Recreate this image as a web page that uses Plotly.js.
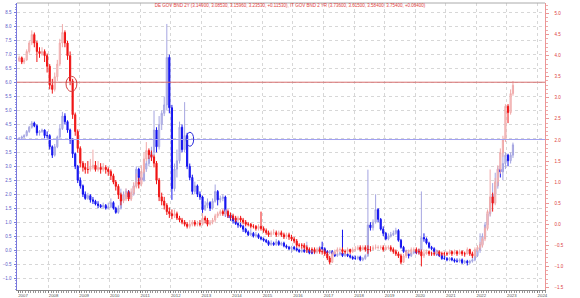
<!DOCTYPE html>
<html><head><meta charset="utf-8">
<script src="https://cdn.plot.ly/plotly-3.0.1.min.js"></script>
<style>html,body{margin:0;padding:0;background:#fff}#c{width:580px;height:298px}</style>
</head><body><div id="c"></div>
<script>
// Monthly bars, Jan 2007 .. Mar 2023
const startYear = 2007;
const titleText = "DE GOV BND 2Y (3.14900, 3.08530, 3.15960, 3.23530, +0.11530), IT GOV BND 2 YR (3.73600, 3.61500, 3.58400, 3.75400, +0.06400)";
const yearLabels = ["2007","2008","2009","2010","2011","2012","2013","2014","2015","2016","2017","2018","2019","2020","2021","2022","2023","2024"];

// IT GOV BND 2 YR (blue, left axis)
const itFirstOpen = 3.98;
const itClose = [4.0,4.05,4.1,4.25,4.4,4.55,4.45,4.2,4.25,4.3,4.1,4.1,
3.7,3.4,3.7,4.05,4.35,4.8,4.6,4.3,3.95,3.45,3.0,2.5,
2.3,2.0,1.85,1.95,1.8,1.75,1.65,1.6,1.55,1.6,1.5,1.55,
1.7,1.5,1.35,1.5,1.8,2.0,2.1,1.9,2.0,2.3,2.9,2.6,
2.5,2.9,3.1,3.3,3.5,4.3,3.7,4.5,4.9,5.2,6.9,5.1,
2.2,2.9,3.2,4.4,3.6,4.1,3.0,2.6,2.1,2.3,2.0,1.9,
1.45,1.6,1.7,1.5,1.75,2.1,1.8,1.85,1.9,1.3,1.25,1.15,
1.05,0.95,0.9,0.85,0.75,0.65,0.55,0.6,0.5,0.55,0.45,0.4,
0.35,0.3,0.2,0.25,0.2,0.3,0.2,0.25,0.15,0.1,0.05,0.1,
0.05,0.0,-0.05,0.0,-0.05,0.0,-0.1,-0.1,-0.05,0.0,0.1,0.05,
-0.05,-0.1,-0.05,-0.15,-0.2,-0.15,-0.1,-0.2,-0.15,-0.2,-0.25,-0.3,
-0.3,-0.25,-0.35,-0.3,-0.2,0.9,0.8,1.0,1.45,1.1,0.75,0.6,
0.4,0.5,0.55,0.6,0.7,0.35,0.1,-0.05,-0.15,-0.2,-0.1,-0.05,
-0.1,0.0,0.45,0.4,0.25,0.1,0.05,-0.05,-0.15,-0.2,-0.3,-0.3,
-0.35,-0.3,-0.35,-0.4,-0.4,-0.35,-0.45,-0.4,-0.45,-0.4,-0.35,-0.2,
0.0,0.2,0.5,0.9,1.3,1.7,2.0,2.3,2.9,2.8,3.1,3.4,
3.2,3.4,3.77];
const itHigh = [4.05,4.1,4.15,4.3,4.45,4.62,4.6,4.5,4.3,4.35,4.32,4.25,
4.15,3.75,3.8,4.1,4.5,4.95,4.9,4.65,4.35,4.0,3.5,3.05,
2.6,2.35,2.1,2.05,2.0,1.9,1.8,1.75,1.65,1.7,1.65,1.7,
1.85,1.75,1.55,1.6,2.2,2.1,2.2,2.15,2.1,2.4,3.0,2.95,
2.75,3.0,3.2,3.45,3.7,5.0,4.4,4.8,5.0,5.5,8.1,7.0,
5.2,3.1,3.6,4.6,4.5,5.3,4.2,3.1,2.7,2.45,2.35,2.1,
1.95,1.75,1.85,1.75,1.85,2.35,2.15,1.95,2.0,1.95,1.4,1.3,
1.2,1.1,1.0,0.98,0.9,0.8,0.7,0.75,0.65,0.65,0.6,0.5,
0.45,0.4,0.35,0.35,0.3,0.4,0.35,0.3,0.3,0.2,0.15,0.15,
0.15,0.1,0.05,0.05,0.05,0.3,0.05,0.0,0.0,0.05,0.15,0.3,
0.1,0.0,0.0,0.0,-0.1,-0.1,-0.05,0.73,-0.1,-0.1,-0.15,-0.2,
-0.2,-0.2,-0.2,-0.25,-0.15,2.88,1.0,1.1,2.0,1.5,1.15,0.85,
0.65,0.6,0.65,0.7,0.8,0.75,0.4,0.15,0.0,-0.1,-0.05,0.0,
0.0,0.05,2.1,0.6,0.45,0.3,0.15,0.1,0.0,-0.1,-0.15,-0.2,
-0.25,-0.25,-0.25,-0.3,-0.3,-0.3,-0.3,-0.35,-0.35,-0.35,-0.25,-0.1,
0.1,0.6,0.6,1.0,1.4,1.85,2.4,2.77,3.0,3.05,3.5,3.5,
3.45,3.5,3.85];
const itLow = [3.95,3.97,4.0,4.07,4.2,4.35,4.4,4.1,4.1,4.2,4.0,4.0,
3.6,3.3,3.35,3.65,4.0,4.3,4.5,4.2,3.8,3.3,2.9,2.4,
2.2,1.9,1.8,1.8,1.7,1.65,1.6,1.5,1.5,1.5,1.45,1.45,
1.5,1.45,1.3,1.3,1.45,1.7,1.9,1.85,1.8,1.95,2.25,2.45,
2.4,2.45,2.8,3.0,3.2,3.4,3.5,3.6,4.3,4.8,5.0,4.9,
1.8,2.1,2.6,3.1,3.5,3.5,2.9,2.5,2.0,2.0,1.9,1.8,
1.33,1.4,1.5,1.4,1.45,1.7,1.6,1.7,1.75,1.2,1.15,1.05,
0.95,0.9,0.8,0.8,0.65,0.6,0.5,0.5,0.45,0.45,0.4,0.35,
0.3,0.25,0.15,0.15,0.15,0.15,0.15,0.15,0.1,0.05,0.0,-0.1,
0.0,-0.05,-0.1,-0.1,-0.1,-0.1,-0.15,-0.15,-0.15,-0.1,-0.05,0.0,
-0.1,-0.2,-0.15,-0.2,-0.25,-0.25,-0.2,-0.25,-0.25,-0.25,-0.3,-0.35,
-0.35,-0.35,-0.4,-0.4,-0.35,-0.25,0.7,0.7,0.95,1.0,0.7,0.5,
0.35,0.35,0.45,0.5,0.55,0.3,0.05,-0.1,-0.2,-0.3,-0.25,-0.15,
-0.15,-0.15,-0.05,0.3,0.2,0.05,0.0,-0.1,-0.2,-0.25,-0.35,-0.35,
-0.4,-0.4,-0.4,-0.45,-0.45,-0.45,-0.5,-0.5,-0.55,-0.5,-0.45,-0.4,
-0.25,-0.1,0.1,0.4,0.85,1.2,1.6,1.9,2.2,2.6,2.5,2.9,
3.0,3.1,3.3];

// DE GOV BND 2Y (red, right axis)
const deFirstOpen = 3.88;
const deClose = [3.95,3.85,3.9,4.1,4.3,4.5,4.3,4.1,4.05,4.1,4.0,3.75,
3.3,3.2,3.5,3.8,4.3,4.55,4.3,4.0,3.4,2.6,2.2,1.8,
1.45,1.35,1.3,1.3,1.35,1.4,1.3,1.35,1.3,1.35,1.3,1.25,
1.15,1.0,0.9,0.7,0.55,0.6,0.75,0.6,0.75,0.9,1.0,0.95,
1.25,1.55,1.75,1.65,1.6,1.45,1.05,0.65,0.55,0.45,0.3,0.25,
0.2,0.25,0.15,0.1,0.05,0.0,-0.05,0.0,0.05,0.0,0.02,0.0,
0.15,0.1,0.0,0.05,0.1,0.2,0.25,0.3,0.25,0.3,0.2,0.2,
0.15,0.1,0.15,0.1,0.05,0.0,0.0,-0.05,-0.05,-0.1,-0.05,-0.1,
-0.15,-0.2,-0.25,-0.2,-0.2,-0.25,-0.2,-0.25,-0.3,-0.25,-0.3,-0.35,
-0.4,-0.5,-0.5,-0.5,-0.55,-0.6,-0.6,-0.6,-0.65,-0.6,-0.65,-0.65,
-0.7,-0.8,-0.9,-0.7,-0.65,-0.6,-0.6,-0.65,-0.65,-0.6,-0.65,-0.6,
-0.6,-0.55,-0.6,-0.55,-0.6,-0.6,-0.6,-0.55,-0.55,-0.55,-0.55,-0.6,
-0.55,-0.55,-0.6,-0.65,-0.7,-0.75,-0.9,-0.75,-0.65,-0.65,-0.6,-0.6,
-0.65,-0.65,-0.75,-0.7,-0.65,-0.7,-0.7,-0.7,-0.65,-0.7,-0.7,-0.7,
-0.7,-0.65,-0.7,-0.65,-0.7,-0.65,-0.7,-0.7,-0.6,-0.7,-0.75,-0.6,
-0.55,-0.5,-0.35,-0.1,0.3,0.65,0.5,1.0,1.3,1.7,2.0,2.8,
2.65,3.1,3.3];
const deHigh = [4.0,3.98,3.95,4.15,4.35,4.6,4.55,4.35,4.2,4.2,4.15,4.05,
3.8,3.45,3.6,3.9,4.4,4.75,4.6,4.35,4.1,3.45,2.65,2.25,
1.85,1.5,1.45,1.5,1.55,1.77,1.5,1.5,1.45,1.45,1.4,1.35,
1.3,1.2,1.05,0.95,0.75,0.7,0.85,0.8,0.85,1.0,1.2,1.1,
1.4,1.7,1.95,1.8,1.75,1.65,1.5,1.1,0.75,0.65,0.5,0.4,
0.35,0.35,0.3,0.2,0.15,0.1,0.05,0.1,0.1,0.1,0.08,0.1,
0.27,0.2,0.15,0.1,0.15,0.25,0.3,0.35,0.35,0.35,0.35,0.28,
0.25,0.2,0.2,0.2,0.15,0.1,0.05,0.03,0.0,-0.02,0.0,0.3,
-0.05,-0.1,-0.15,-0.15,-0.12,-0.15,-0.15,-0.15,-0.2,-0.2,-0.2,-0.25,
-0.3,-0.35,-0.45,-0.45,-0.45,-0.5,-0.55,-0.55,-0.55,-0.55,-0.55,-0.6,
-0.6,-0.65,-0.75,-0.65,-0.6,-0.55,-0.55,-0.55,-0.6,-0.55,-0.58,-0.55,
-0.52,-0.5,-0.5,-0.5,-0.5,-0.5,-0.52,-0.5,-0.48,-0.5,-0.5,-0.5,
-0.5,-0.5,-0.5,-0.55,-0.6,-0.65,-0.7,-0.7,-0.6,-0.6,-0.55,-0.55,
-0.55,-0.58,-0.6,-0.6,-0.6,-0.62,-0.65,-0.65,-0.6,-0.62,-0.65,-0.65,
-0.65,-0.6,-0.62,-0.6,-0.62,-0.6,-0.62,-0.65,-0.55,-0.58,-0.65,-0.55,
-0.5,-0.42,-0.3,-0.05,0.35,1.3,0.75,1.1,1.4,1.8,2.1,2.85,
2.85,3.2,3.4];
const deLow = [3.85,3.8,3.8,3.88,4.05,4.25,4.2,3.85,3.95,4.0,3.85,3.6,
3.2,3.1,3.15,3.4,3.75,4.2,4.2,3.9,3.3,2.5,2.1,1.7,
1.35,1.25,1.2,1.2,1.25,1.3,1.25,1.25,1.2,1.25,1.2,1.15,
1.05,0.95,0.8,0.6,0.45,0.5,0.55,0.55,0.55,0.7,0.85,0.85,
0.9,1.2,1.5,1.55,1.5,1.35,0.95,0.55,0.45,0.35,0.22,0.15,
0.12,0.15,0.1,0.05,0.0,-0.05,-0.1,-0.1,-0.05,-0.05,-0.05,-0.05,
-0.03,0.02,-0.05,-0.03,0.0,0.05,0.15,0.2,0.2,0.2,0.15,0.12,
0.1,0.05,0.05,0.05,0.0,-0.05,-0.05,-0.1,-0.1,-0.15,-0.15,-0.15,
-0.2,-0.25,-0.3,-0.3,-0.25,-0.3,-0.3,-0.3,-0.35,-0.35,-0.37,-0.4,
-0.45,-0.55,-0.55,-0.58,-0.6,-0.68,-0.65,-0.68,-0.7,-0.7,-0.7,-0.72,
-0.75,-0.85,-0.95,-0.92,-0.72,-0.7,-0.65,-0.7,-0.7,-0.7,-0.7,-0.68,
-0.65,-0.62,-0.65,-0.62,-0.65,-0.7,-0.65,-0.62,-0.6,-0.6,-0.6,-0.65,
-0.62,-0.6,-0.65,-0.7,-0.75,-0.8,-0.95,-0.92,-0.8,-0.7,-0.7,-0.65,
-0.7,-0.72,-1.0,-0.8,-0.72,-0.75,-0.75,-0.75,-0.72,-0.75,-0.75,-0.75,
-0.75,-0.72,-0.75,-0.72,-0.75,-0.72,-0.75,-0.77,-0.72,-0.75,-0.8,-0.78,
-0.65,-0.6,-0.55,-0.4,-0.15,0.2,0.3,0.45,0.9,1.2,1.6,1.95,
2.4,2.6,3.05];

// reference lines (last values) and marked points
const deLine = 3.37, itLine = 3.96;

function pad(n){return (n<10?'0':'')+n;}
const months = itClose.map((_, i) => (startYear + Math.floor(i/12)) + '-' + pad(i%12+1) + '-15');
// each bar opens at the previous bar's close
const itOpen = itClose.map((c, i) => i === 0 ? itFirstOpen : itClose[i-1]);
const deOpen = deClose.map((c, i) => i === 0 ? deFirstOpen : deClose[i-1]);

const font = "Liberation Sans, Arial, sans-serif";
const traces = [
  {type:'candlestick', x:months, open:itOpen, high:itHigh, low:itLow, close:itClose, yaxis:'y', name:'IT GOV BND 2 YR',
   increasing:{line:{color:'rgb(165,165,225)', width:1}, fillcolor:'rgb(205,205,240)'},
   decreasing:{line:{color:'rgb(20,20,240)', width:1}, fillcolor:'rgb(20,20,240)'}, hoverinfo:'skip'},
  {type:'candlestick', x:months, open:deOpen, high:deHigh, low:deLow, close:deClose, yaxis:'y2', name:'DE GOV BND 2Y',
   increasing:{line:{color:'rgb(240,170,170)', width:1}, fillcolor:'rgb(250,215,215)'},
   decreasing:{line:{color:'rgb(240,20,20)', width:1}, fillcolor:'rgb(240,20,20)'}, hoverinfo:'skip'}
];

const tickvals = yearLabels.map(y => y + '-01-01');
const layout = {
  width:580, height:298,
  margin:{l:17, r:35, t:3, b:8, pad:0},
  paper_bgcolor:'#fff', plot_bgcolor:'#fff',
  showlegend:false,
  font:{family:font, size:4.5},
  title:{text:titleText, font:{family:font, size:4.5, color:'rgb(225,60,60)'}, x:0.5, xref:'container', xanchor:'center', y:0.983, yref:'container', yanchor:'middle'},
  xaxis:{type:'date', range:['2006-12-20','2024-04-01'], tickvals:tickvals, ticktext:yearLabels,
    showgrid:true, gridcolor:'rgb(215,215,215)', griddash:'dot', gridwidth:1,
    ticks:'outside', ticklen:2, tickcolor:'#777', showline:true, linecolor:'#888', linewidth:1,
    tickfont:{size:4.3, color:'#555'}, ticklabelshift:5, ticklabelstandoff:-1,
    minor:{dtick:'M1', tick0:'2007-01-01', ticks:'outside', ticklen:1.5, tickcolor:'#999', showgrid:false},
    rangeslider:{visible:false}, fixedrange:true, zeroline:false},
  yaxis:{range:[-1.43, 8.85], dtick:0.5, tick0:0, tickformat:'.1f',
    showgrid:true, gridcolor:'rgb(215,215,215)', griddash:'dot', gridwidth:1, zeroline:false,
    showline:true, linecolor:'rgb(120,120,220)', linewidth:1,
    ticks:'outside', ticklen:2.5, tickcolor:'rgb(120,120,220)',
    minor:{dtick:0.1, ticks:'outside', ticklen:1.5, tickcolor:'rgb(150,150,225)', showgrid:false},
    tickfont:{size:4.5, color:'rgb(90,90,200)'}, ticklabelstandoff:1, fixedrange:true},
  yaxis2:{overlaying:'y', side:'right', range:[-1.56, 5.25], dtick:0.5, tick0:0, tickformat:'.1f',
    showgrid:false, zeroline:false, showline:true, linecolor:'rgb(235,150,150)', linewidth:1,
    ticks:'outside', ticklen:2.5, tickcolor:'rgb(235,150,150)',
    minor:{dtick:0.1, ticks:'outside', ticklen:1.5, tickcolor:'rgb(240,170,170)', showgrid:false},
    tickfont:{size:4.5, color:'rgb(220,60,60)'}, ticklabelstandoff:5, fixedrange:true},
  shapes:[
    {type:'line', xref:'paper', x0:0, x1:1, yref:'paper', y0:1, y1:1, line:{color:'#aaa', width:1}},
    {type:'line', xref:'paper', x0:0, x1:1, yref:'y2', y0:deLine, y1:deLine, line:{color:'rgb(215,110,110)', width:1}},
    {type:'line', xref:'paper', x0:0, x1:1, yref:'y', y0:itLine, y1:itLine, line:{color:'rgb(160,160,240)', width:1}},
    {type:'circle', xref:'x', yref:'y2', x0:'2008-07-28', x1:'2008-12-05', y0:3.15, y1:3.51, line:{color:'rgb(210,60,60)', width:1}},
    {type:'circle', xref:'x', yref:'y', x0:'2012-07-04', x1:'2012-10-01', y0:3.72, y1:4.22, line:{color:'rgb(40,40,220)', width:1}}
  ]
};
Plotly.newPlot('c', traces, layout, {staticPlot:true, displayModeBar:false});
</script></body></html>
